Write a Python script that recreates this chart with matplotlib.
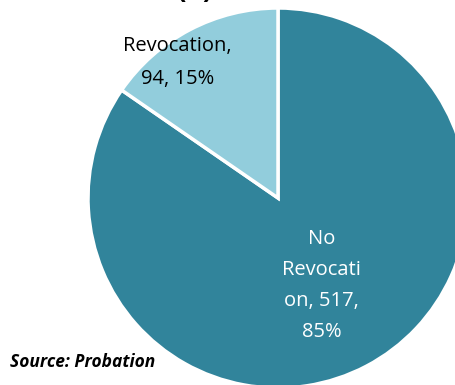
import matplotlib
matplotlib.use('Agg')
import matplotlib.pyplot as plt

# data
categories = ['No Revocation', 'Revocation']
counts = [517, 94]
percents = ['85%', '15%']
colors = ['#31849B', '#92CDDC']

fig = plt.figure(figsize=(4.56, 3.85), dpi=100)
ax = fig.add_axes([88 / 456, -3 / 385, 380 / 456, 380 / 385])

ax.pie(counts, colors=colors, startangle=90, counterclock=False,
       wedgeprops=dict(edgecolor='white', linewidth=2.5))
ax.set_xlim(-1, 1)
ax.set_ylim(-1, 1)
ax.set_aspect('equal')

# data labels (text wrapped like the original)
lab_no = 'No\nRevocati\non, %d,\n%s' % (counts[0], percents[0])
lab_rev = 'Revocation,\n%d, %s' % (counts[1], percents[1])
ax.text(0.23, -0.46, lab_no, ha='center', va='center', color='white',
        fontsize=14.5, family='Open Sans', linespacing=1.75)
ax.text(-0.53, 0.715, lab_rev, ha='center', va='center', color='black',
        fontsize=14.5, family='Open Sans', linespacing=1.85)

# title, cut off at the top like the original
fig.text(0.428, 1.0 + 10 / 385, '(b)', ha='center', va='center', fontsize=20,
         fontweight='bold', family='Open Sans')

fig.text(0.022, 0.06, 'Source: Probation', fontsize=12.5, fontweight='bold',
         fontstyle='italic', family='Open Sans', va='center')

fig.savefig('out.png', dpi=100)
plt.close()
